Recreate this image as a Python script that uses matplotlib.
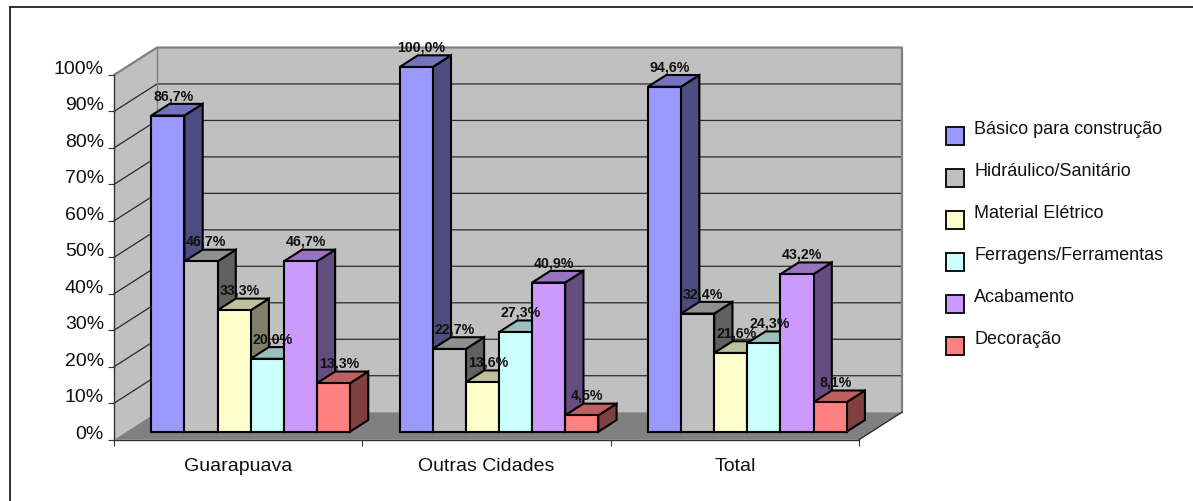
import matplotlib
matplotlib.use("Agg")
import matplotlib.pyplot as plt
from matplotlib.patches import Polygon, Rectangle
from matplotlib.transforms import ScaledTranslation

plt.rcParams['font.family'] = ['Liberation Sans', 'DejaVu Sans']

categories = ["Guarapuava", "Outras Cidades", "Total"]
series_names = ["Básico para construção", "Hidráulico/Sanitário", "Material Elétrico",
                "Ferragens/Ferramentas", "Acabamento", "Decoração"]
basico = [86.7, 100.0, 94.6]
hidraulico = [46.7, 22.7, 32.4]
eletrico = [33.3, 13.6, 21.6]
ferragens = [20.0, 27.3, 24.3]
acabamento = [46.7, 40.9, 43.2]
decoracao = [13.3, 4.5, 8.1]
series_values = [basico, hidraulico, eletrico, ferragens, acabamento, decoracao]
series_colors = ["#9999FF", "#C0C0C0", "#FFFFCC", "#CCFFFF", "#CC99FF", "#FF8080"]
y_ticks = list(range(0, 101, 10))

W, H = 1193, 501
fig = plt.figure(figsize=(W / 100, H / 100), dpi=100, facecolor="white")
L, R, B, T = 114, 859, 439.7, 75
ax = fig.add_axes([L / W, (H - B) / H, (R - L) / W, (B - T) / H])
ax.set_xlim(0, 3)
ax.set_ylim(0, 100)
ax.patch.set_visible(False)
for s in ax.spines.values():
    s.set_visible(False)

# Oblique projection: depth 0 is the front plane, depth 1 the back wall.
DX = 43 / ((R - L) / 3)
DY = 27.5 / ((B - T) / 100)


def proj(x, y, d):
    return (x + d * DX, y + d * DY)


def shade(color, f):
    rgb = matplotlib.colors.to_rgb(color)
    return tuple(c * f for c in rgb)


def face(points, fc, ec, lw, z):
    ax.add_patch(Polygon([proj(*p) for p in points], closed=True, facecolor=fc,
                         edgecolor=ec, linewidth=lw, zorder=z, clip_on=False,
                         joinstyle="miter"))


# Walls and floor
face([(0, 0, 1), (3, 0, 1), (3, 100, 1), (0, 100, 1)], "#C0C0C0", "none", 0, 1)
face([(0, 0, 0), (0, 100, 0), (0, 100, 1), (0, 0, 1)], "#C0C0C0", "none", 0, 1)
face([(0, 0, 0), (3, 0, 0), (3, 0, 1), (0, 0, 1)], "#808080", "none", 0, 1)

# Gridlines across both walls
for v in y_ticks[1:-1]:
    pts = [proj(0, v, 0), proj(0, v, 1), proj(3, v, 1)]
    ax.plot(*zip(*pts), color="#2a2a2a", lw=0.9, zorder=2, clip_on=False)

# Wall outlines
outline = [proj(0, 100, 0), proj(0, 100, 1), proj(3, 100, 1), proj(3, 0, 1)]
ax.plot(*zip(*outline), color="#808080", lw=1.6, zorder=2, clip_on=False)
ax.plot(*zip(proj(0, 0, 1), proj(0, 100, 1)), color="#808080", lw=1.0, zorder=2, clip_on=False)
ax.plot(*zip(proj(3, 0, 0), proj(3, 0, 1)), color="#222222", lw=0.9, zorder=2, clip_on=False)
ax.plot([0, 0], [0, 100], color="#333333", lw=1.0, zorder=2, clip_on=False)
ax.plot([0, 3], [0, 0], color="#333333", lw=1.0, zorder=2, clip_on=False)

# Bars, drawn left to right so each one hides the side of its neighbour
BAR_W = 0.8 / 6
MARGIN = 0.1
D0, D1 = 0.29, 0.715
EDGE = "#000000"
z = 3
for c in range(len(categories)):
    for s, (vals, col) in enumerate(zip(series_values, series_colors)):
        x0 = c + MARGIN + s * BAR_W
        x1 = x0 + BAR_W
        v = vals[c]
        face([(x1, 0, D0), (x1, 0, D1), (x1, v, D1), (x1, v, D0)], shade(col, 0.5), EDGE, 1.5, z)
        face([(x0, v, D0), (x1, v, D0), (x1, v, D1), (x0, v, D1)], shade(col, 0.75), EDGE, 1.5, z)
        face([(x0, 0, D0), (x1, 0, D0), (x1, v, D0), (x0, v, D0)], col, EDGE, 1.5, z)
        z += 1

# Value labels sit above everything else
for c in range(len(categories)):
    for s, vals in enumerate(series_values):
        x0 = c + MARGIN + s * BAR_W
        ax.annotate(f"{vals[c]:.1f}%".replace(".", ","), xy=proj(x0, vals[c], D0),
                    xytext=(22, 19.5), textcoords="offset pixels", ha="center", va="center",
                    fontsize=10.2, fontweight="bold", color="#111111", zorder=100,
                    annotation_clip=False)

# Axis ticks and labels
ax.set_yticks(y_ticks)
ax.set_yticklabels([f"{v}%" for v in y_ticks], fontsize=14, color="#111111")
ax.tick_params(axis="y", length=4.3, width=0.8, color="#333333", pad=3)
raise_labels = ScaledTranslation(0, 7.5 / 100, fig.dpi_scale_trans)
for lab in ax.get_yticklabels():
    lab.set_transform(lab.get_transform() + raise_labels)
ax.set_xticks([0, 1, 2, 3])
ax.set_xticklabels([])
ax.tick_params(axis="x", which="major", length=4.3, width=0.8, color="#333333")
ax.set_xticks([0.5, 1.5, 2.5], minor=True)
ax.set_xticklabels(categories, minor=True, fontsize=14, color="#111111")
ax.tick_params(axis="x", which="minor", length=0, pad=13.5)


# Legend, placed on the canvas in pixels
def fx(x):
    return x / W


def fy(y):
    return (H - y) / H


for i, (name, col) in enumerate(zip(series_names, series_colors)):
    top = 127 + i * 42
    fig.add_artist(Rectangle((fx(946), fy(top + 18)), 18 / W, 18 / H, transform=fig.transFigure,
                             facecolor=col, edgecolor="#111111", linewidth=1.4))
    fig.text(fx(974), fy(top + 2.5), name, fontsize=13, ha="left", va="center", color="#111111")

# Chart frame: only the top and left edges fall inside the canvas
fig.add_artist(plt.Line2D([fx(9.5), 1], [fy(6.8), fy(6.8)], transform=fig.transFigure,
                          color="#222222", lw=1.3))
fig.add_artist(plt.Line2D([fx(9.7), fx(9.7)], [0, fy(6.8)], transform=fig.transFigure,
                          color="#222222", lw=1.3))

fig.savefig("out.png", dpi=100, facecolor="white")
